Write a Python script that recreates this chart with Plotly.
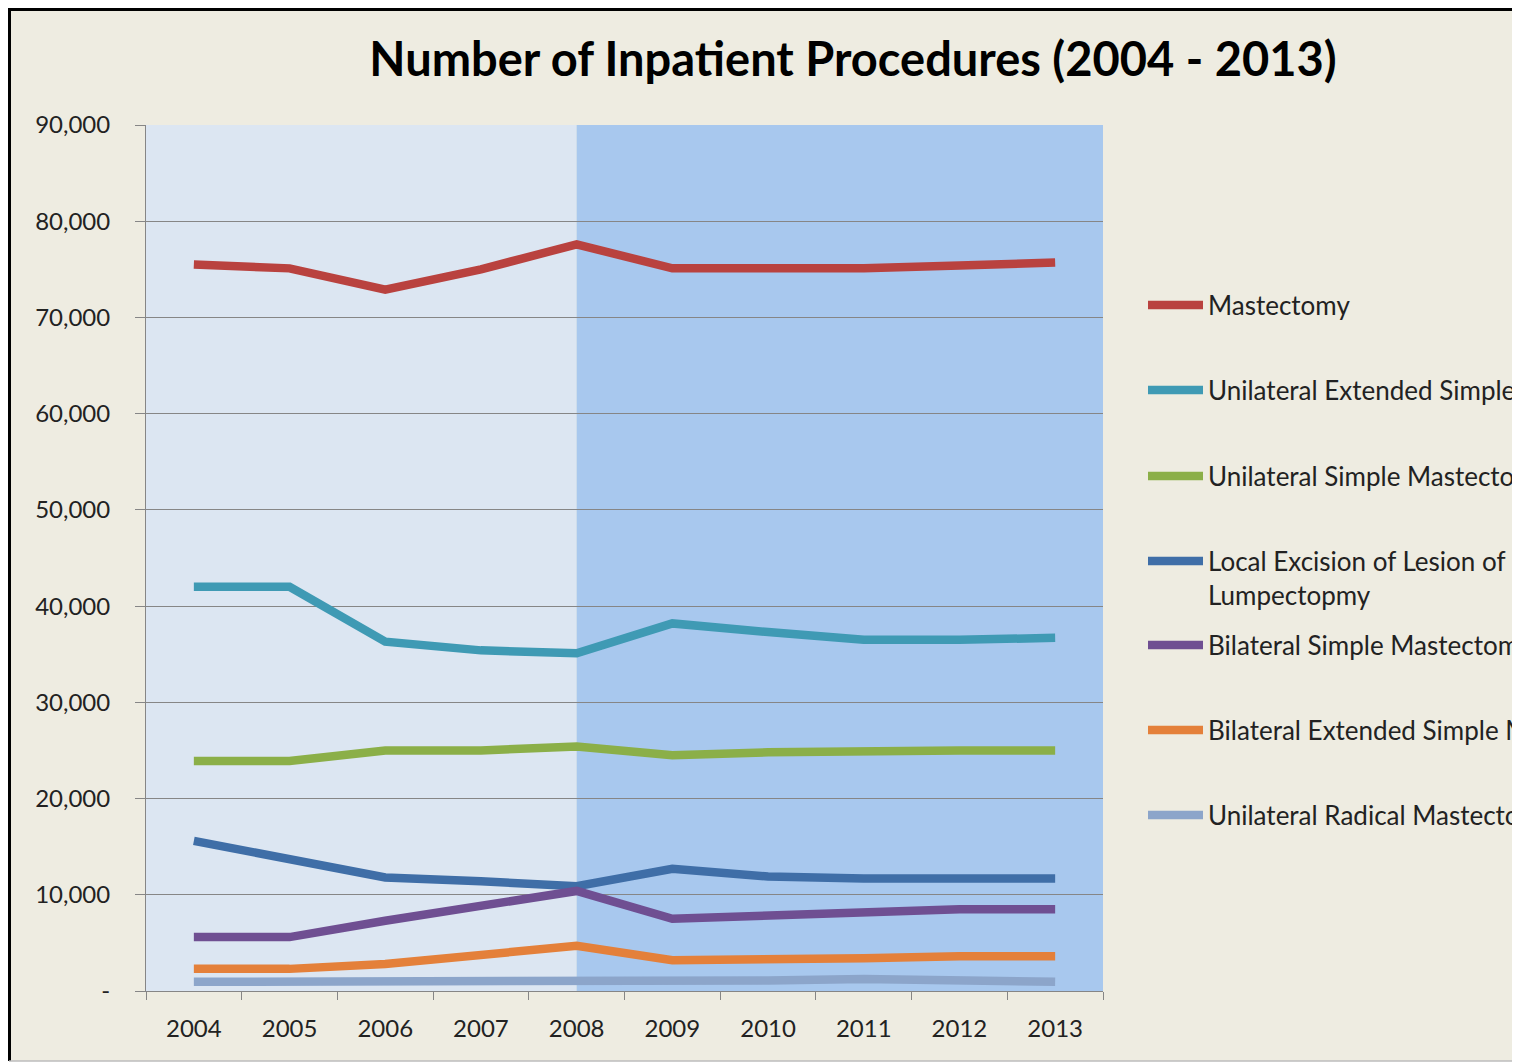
import plotly.graph_objects as go

years = ["2004", "2005", "2006", "2007", "2008", "2009", "2010", "2011", "2012", "2013"]

series_names = [
    "Mastectomy",
    "Unilateral Extended Simple Mastectomy",
    "Unilateral Simple Mastectomy",
    "Local Excision of Lesion of Breast<br>Lumpectopmy",
    "Bilateral Simple Mastectomy",
    "Bilateral Extended Simple Mastectomy",
    "Unilateral Radical Mastectomy",
]

mastectomy = [75500, 75100, 72900, 75000, 77600, 75100, 75100, 75100, 75400, 75700]
unilateral_extended_simple = [42000, 42000, 36300, 35400, 35100, 38200, 37300, 36500, 36500, 36700]
unilateral_simple = [23900, 23900, 25000, 25000, 25400, 24500, 24800, 25000, 25000, 25000]
local_excision = [15600, 13600, 11800, 11400, 10900, 12700, 11900, 11700, 11700, 11700]
bilateral_simple = [5600, 5600, 7300, 8800, 10400, 7500, 7900, 8300, 8500, 8500]
bilateral_extended_simple = [2300, 2300, 2800, 3700, 4700, 3200, 3200, 3400, 3600, 3600]
unilateral_radical = [950, 950, 1150, 1000, 1050, 1000, 1100, 1250, 1000, 950]

series_values = [mastectomy, unilateral_extended_simple, unilateral_simple, local_excision,
                 bilateral_simple, bilateral_extended_simple, unilateral_radical]
colors = ["#B9423F", "#3F9AB4", "#8BAF48", "#3F6EA7", "#6F4F92", "#E4803A", "#8CA5CA"]

y_tickvals = [0, 10000, 20000, 30000, 40000, 50000, 60000, 70000, 80000, 90000]
y_ticktext = ["-", "10,000", "20,000", "30,000", "40,000", "50,000", "60,000", "70,000", "80,000", "90,000"]

# page body has an 8px margin: figure pixel = screen pixel - 8
OFF = 8
W, H = 1520, 1063 - OFF
L, R, T, B = 146 - OFF, 1103 - OFF, 125 - OFF, 991 - OFF  # plot area (figure pixels)
PW, PH = R - L, B - T


def px_x(sx):
    """screen x -> paper x"""
    return (sx - OFF - L) / PW


def px_y(sy):
    """screen y -> paper y"""
    return (B - (sy - OFF)) / PH


FONT = "Lato, Calibri, 'Open Sans', sans-serif"

fig = go.Figure()
for name, vals, col in zip(series_names, series_values, colors):
    fig.add_trace(go.Scatter(x=years, y=vals, mode="lines", name=name,
                             line=dict(color=col, width=8.5), showlegend=False))

shapes = [
    # chart background
    dict(type="rect", xref="paper", yref="paper", x0=px_x(9), x1=px_x(1600),
         y0=px_y(1061), y1=px_y(9), fillcolor="#EEECE1",
         line=dict(width=0), layer="below"),
    # frame: left and top black, bottom light gray
    dict(type="line", xref="paper", yref="paper", x0=px_x(9.5), x1=px_x(9.5),
         y0=px_y(1061), y1=px_y(8), line=dict(color="#000000", width=3), layer="below"),
    dict(type="line", xref="paper", yref="paper", x0=px_x(8), x1=px_x(1600),
         y0=px_y(9.5), y1=px_y(9.5), line=dict(color="#000000", width=3), layer="below"),
    dict(type="line", xref="paper", yref="paper", x0=px_x(9), x1=px_x(1600),
         y0=px_y(1061), y1=px_y(1061), line=dict(color="#BDBDBD", width=1.5), layer="below"),
    # light shaded region (2004-2008)
    dict(type="rect", xref="x", yref="y", x0=-0.5, x1=4, y0=0, y1=90000,
         fillcolor="#DCE6F2", line=dict(width=0), layer="below"),
    # darker shaded region (2008-2013)
    dict(type="rect", xref="x", yref="y", x0=4, x1=9.5, y0=0, y1=90000,
         fillcolor="#A8C8EE", line=dict(width=0), layer="below"),
]

annotations = []
legend_rows = [305, 390, 476, 578, 645, 730, 815]
swatch_rows = [305, 390, 476, 561, 645, 730, 815]
for name, col, ty, sy in zip(series_names, colors, legend_rows, swatch_rows):
    shapes.append(dict(type="line", xref="paper", yref="paper",
                       x0=px_x(1148), x1=px_x(1203), y0=px_y(sy), y1=px_y(sy),
                       line=dict(color=col, width=8.5)))
    annotations.append(dict(xref="paper", yref="paper", x=px_x(1206), y=px_y(ty),
                            xanchor="left", yanchor="middle", align="left",
                            text=name, showarrow=False,
                            font=dict(family=FONT, size=26, color="#222222")))

fig.update_layout(
    width=W, height=H,
    margin=dict(l=L, r=W - R, t=T, b=H - B, pad=0),
    paper_bgcolor="#FFFFFF",
    plot_bgcolor="rgba(0,0,0,0)",
    title=dict(text="<b>Number of Inpatient Procedures (2004 - 2013)</b>",
               x=px_x(853), xref="paper", xanchor="center",
               y=1 - (60 - OFF) / H, yanchor="middle",
               font=dict(family=FONT, size=47, color="#000000")),
    shapes=shapes,
    annotations=annotations,
    xaxis=dict(type="category", range=[-0.5, 9.5], tickson="boundaries",
               ticks="outside", ticklen=8, tickcolor="#868686",
               showline=True, linecolor="#868686", linewidth=1,
               showgrid=False, zeroline=False,
               ticklabelstandoff=16,
               tickfont=dict(family=FONT, size=24, color="#222222")),
    yaxis=dict(range=[0, 90000], tickvals=y_tickvals, ticktext=y_ticktext,
               ticks="outside", ticklen=10, tickcolor="#868686",
               showline=True, linecolor="#868686", linewidth=1,
               showgrid=True, gridcolor="#868686", gridwidth=1,
               zeroline=False, ticklabelstandoff=20,
               tickfont=dict(family=FONT, size=24, color="#222222")),
    showlegend=False,
)

fig.write_html("out.html")
